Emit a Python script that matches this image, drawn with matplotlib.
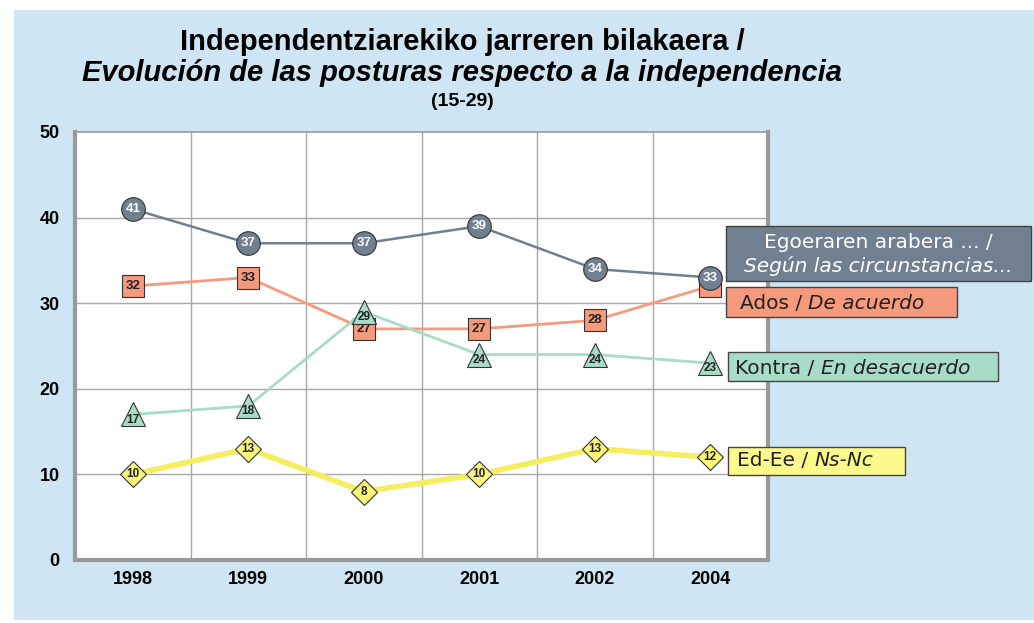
import matplotlib.pyplot as plt
from matplotlib.patches import Rectangle

# -------------------------
# DATA
# -------------------------
years = ["1998", "1999", "2000", "2001", "2002", "2004"]
egoeraren = [41, 37, 37, 39, 34, 33]
ados = [32, 33, 27, 27, 28, 32]
kontra = [17, 18, 29, 24, 24, 23]
ed_ee = [10, 13, 8, 10, 13, 12]
y_ticks = [0, 10, 20, 30, 40, 50]

BLUE_BG = "#cfe5f3"
SLATE = "#708090"
SALMON = "#f59a7c"
GREEN = "#a8dcc6"
YELLOW = "#fbf67a"

W, H = 1034, 623

fig = plt.figure(figsize=(W / 100, H / 100), dpi=100)
fig.patch.set_facecolor("white")
fig.patches.append(Rectangle((14 / W, 3 / H), 1 - 14 / W, 1 - 13 / H,
                             transform=fig.transFigure, facecolor=BLUE_BG,
                             edgecolor="none", zorder=-5))

ax = fig.add_axes([75 / W, 1 - 560 / H, 693 / W, 428 / H])
ax.set_facecolor("white")
ax.set_zorder(1)

x = list(range(len(years)))

# -------------------------
# SERIES
# -------------------------
series = [
    (ed_ee, YELLOW, "#f6ee60", "D", 13.5, 4.0, "#222222", 2),
    (ados, SALMON, SALMON, "s", 16, 2.0, "#222222", 3),
    (kontra, GREEN, GREEN, "^", 17, 2.0, "#222222", 4),
    (egoeraren, SLATE, SLATE, "o", 17, 1.8, "white", 5),
]

for vals, fc, lc, mk, ms, lw, tc, z in series:
    ax.plot(x, vals, color=lc, linewidth=lw, zorder=z)
    ax.plot(x, vals, linestyle="none", marker=mk, markersize=ms,
            markerfacecolor=fc, markeredgecolor="#333333",
            markeredgewidth=0.8, zorder=z + 0.1)
    for xi, v in zip(x, vals):
        dy = -0.6 if mk == "^" else 0
        fs = 8.5 if mk in ("^", "D") else 9.5
        ax.text(xi, v + dy, str(v), ha="center", va="center", fontsize=fs,
                fontweight="bold", color=tc, zorder=z + 0.2,
                family="Liberation Sans")

# -------------------------
# AXES STYLE
# -------------------------
ax.set_xlim(-0.5, len(years) - 0.5)
ax.set_ylim(0, 50)
ax.set_yticks(y_ticks)
ax.set_yticklabels([str(t) for t in y_ticks], fontsize=13, fontweight="bold",
                   family="Liberation Sans")
ax.set_xticks(x)
ax.set_xticklabels(years, fontsize=13, fontweight="bold",
                   family="Liberation Sans")
ax.tick_params(length=0, pad=8)
ax.tick_params(axis="y", pad=11)

for xb in [i + 0.5 for i in x[:-1]]:
    ax.axvline(xb, color="#a8a8a8", linewidth=1.0, zorder=1)
for yt in y_ticks[1:-1]:
    ax.axhline(yt, color="#a8a8a8", linewidth=1.0, zorder=1)

for side in ["left", "bottom", "right"]:
    ax.spines[side].set_color("#999999")
    ax.spines[side].set_linewidth(3)
ax.spines["top"].set_color("#999999")
ax.spines["top"].set_linewidth(1.2)

# -------------------------
# TITLE
# -------------------------
fig.text(462 / W, 1 - 42 / H, "Independentziarekiko jarreren bilakaera /",
         ha="center", va="center", fontsize=21, fontweight="bold",
         family="Liberation Sans")
fig.text(462 / W, 1 - 73 / H,
         "Evolución de las posturas respecto a la independencia",
         ha="center", va="center", fontsize=21, fontweight="bold",
         style="italic", family="Liberation Sans")
fig.text(462 / W, 1 - 101 / H, "(15-29)", ha="center", va="center",
         fontsize=14, fontweight="bold", family="Liberation Sans")

# -------------------------
# LEGEND BOXES
# -------------------------
def box(x0, x1, y0, y1, fc):
    fig.patches.append(Rectangle((x0 / W, 1 - y1 / H), (x1 - x0) / W,
                                 (y1 - y0) / H, transform=fig.transFigure,
                                 facecolor=fc, edgecolor="#444444",
                                 linewidth=1.0, zorder=3))

lfont = dict(family="DejaVu Sans", fontsize=14.5, zorder=4)
renderer = fig.canvas.get_renderer()


def two_part(x0, yc, plain, ital, color):
    t1 = fig.text(x0 / W, 1 - yc / H, plain, ha="left", va="center",
                  color=color, **lfont)
    x1 = t1.get_window_extent(renderer).x1
    fig.text(x1 / W, 1 - yc / H, ital, ha="left", va="center",
             color=color, style="italic", **lfont)


box(726, 1031, 226, 281, SLATE)
fig.text(878 / W, 1 - 243 / H, "Egoeraren arabera ... /", ha="center",
         va="center", color="white", **lfont)
fig.text(878 / W, 1 - 266 / H, "Según las circunstancias...",
         ha="center", va="center", color="white", style="italic", **lfont)

box(726, 957, 287, 317, SALMON)
two_part(740, 303, "Ados / ", "De acuerdo", "#222222")

box(728, 998, 352, 381, GREEN)
two_part(735, 368, "Kontra / ", "En desacuerdo", "#222222")

box(728, 905, 447, 475, "#fdfa8c")
two_part(737, 461, "Ed-Ee / ", "Ns-Nc", "#222222")

fig.savefig("out.png", dpi=100, facecolor=fig.get_facecolor())
